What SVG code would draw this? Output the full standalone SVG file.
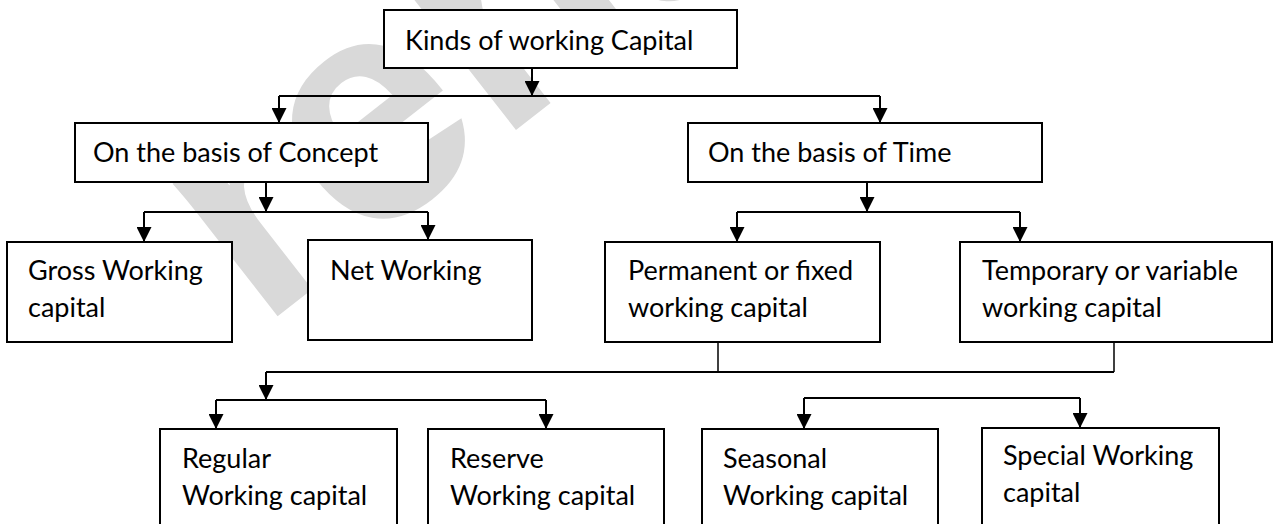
<svg xmlns="http://www.w3.org/2000/svg" width="1274" height="524" viewBox="0 0 1274 524">
  <style>
    .box { fill: #ffffff; stroke: #000000; stroke-width: 2; }
    .lbl { font-family: Lato, "Open Sans", sans-serif; font-size: 27px; fill: #000000; }
    .ln { fill: none; stroke: #000000; stroke-width: 2; }
    .thin { fill: none; stroke: #000000; stroke-width: 1.5; }
    .wm { font-family: "Liberation Sans", Arial, sans-serif; font-weight: bold; font-size: 320px; fill: #d9d9d9; }
  </style>
  <defs>
    <marker id="ah" markerUnits="userSpaceOnUse" markerWidth="15" markerHeight="15" viewBox="0 0 15 15" refX="15" refY="7.5" orient="auto">
      <path d="M0,0 L15,7.5 L0,15 z" fill="#000000"/>
    </marker>
  </defs>
  <rect x="0" y="0" width="1274" height="524" fill="#ffffff"/>
  <g id="watermark">
    <text class="wm" transform="translate(260,330) rotate(-38)">reha</text>
  </g>
  <g id="connectors">
    <line class="ln" x1="532" y1="68" x2="532" y2="96" marker-end="url(#ah)"/>
    <line class="ln" x1="279" y1="96" x2="880" y2="96"/>
    <line class="ln" x1="279" y1="96" x2="279" y2="123" marker-end="url(#ah)"/>
    <line class="ln" x1="880" y1="96" x2="880" y2="123" marker-end="url(#ah)"/>
    <line class="ln" x1="266" y1="182" x2="266" y2="212" marker-end="url(#ah)"/>
    <line class="ln" x1="144" y1="212" x2="428" y2="212"/>
    <line class="ln" x1="144" y1="212" x2="144" y2="242" marker-end="url(#ah)"/>
    <line class="ln" x1="428" y1="212" x2="428" y2="240" marker-end="url(#ah)"/>
    <line class="ln" x1="867" y1="182" x2="867" y2="212" marker-end="url(#ah)"/>
    <line class="ln" x1="737" y1="212" x2="1020" y2="212"/>
    <line class="ln" x1="737" y1="212" x2="737" y2="242" marker-end="url(#ah)"/>
    <line class="ln" x1="1020" y1="212" x2="1020" y2="242" marker-end="url(#ah)"/>
    <line class="thin" x1="718" y1="342" x2="718" y2="372"/>
    <line class="thin" x1="1114" y1="342" x2="1114" y2="372"/>
    <line class="ln" x1="266" y1="372" x2="1114" y2="372"/>
    <line class="ln" x1="266" y1="372" x2="266" y2="400" marker-end="url(#ah)"/>
    <line class="ln" x1="216" y1="400" x2="546" y2="400"/>
    <line class="ln" x1="216" y1="400" x2="216" y2="429" marker-end="url(#ah)"/>
    <line class="ln" x1="546" y1="400" x2="546" y2="429" marker-end="url(#ah)"/>
    <line class="ln" x1="804" y1="398" x2="1080" y2="398"/>
    <line class="ln" x1="804" y1="398" x2="804" y2="429" marker-end="url(#ah)"/>
    <line class="ln" x1="1080" y1="398" x2="1080" y2="428" marker-end="url(#ah)"/>
  </g>
  <g id="kinds">
    <rect class="box" x="384" y="10" width="353" height="58"/>
    <text class="lbl" x="405" y="50">Kinds of working Capital</text>
  </g>
  <g id="concept">
    <rect class="box" x="75" y="123" width="353" height="59"/>
    <text class="lbl" x="93" y="162">On the basis of Concept</text>
  </g>
  <g id="time">
    <rect class="box" x="688" y="123" width="354" height="59"/>
    <text class="lbl" x="708" y="162">On the basis of Time</text>
  </g>
  <g id="gross">
    <rect class="box" x="7" y="242" width="225" height="100"/>
    <text class="lbl" x="28" y="280">Gross Working</text>
    <text class="lbl" x="28" y="317">capital</text>
  </g>
  <g id="net">
    <rect class="box" x="308" y="240" width="224" height="100"/>
    <text class="lbl" x="330" y="280">Net Working</text>
  </g>
  <g id="permanent">
    <rect class="box" x="605" y="242" width="275" height="100"/>
    <text class="lbl" x="628" y="280">Permanent or fixed</text>
    <text class="lbl" x="628" y="317">working capital</text>
  </g>
  <g id="temporary">
    <rect class="box" x="960" y="242" width="312" height="100"/>
    <text class="lbl" x="982" y="280">Temporary or variable</text>
    <text class="lbl" x="982" y="317">working capital</text>
  </g>
  <g id="regular">
    <rect class="box" x="160" y="429" width="237" height="110"/>
    <text class="lbl" x="182" y="468">Regular</text>
    <text class="lbl" x="182" y="505">Working capital</text>
  </g>
  <g id="reserve">
    <rect class="box" x="428" y="429" width="236" height="110"/>
    <text class="lbl" x="450" y="468">Reserve</text>
    <text class="lbl" x="450" y="505">Working capital</text>
  </g>
  <g id="seasonal">
    <rect class="box" x="702" y="429" width="236" height="110"/>
    <text class="lbl" x="723" y="468">Seasonal</text>
    <text class="lbl" x="723" y="505">Working capital</text>
  </g>
  <g id="special">
    <rect class="box" x="982" y="428" width="237" height="110"/>
    <text class="lbl" x="1003" y="465">Special Working</text>
    <text class="lbl" x="1003" y="502">capital</text>
  </g>
</svg>
